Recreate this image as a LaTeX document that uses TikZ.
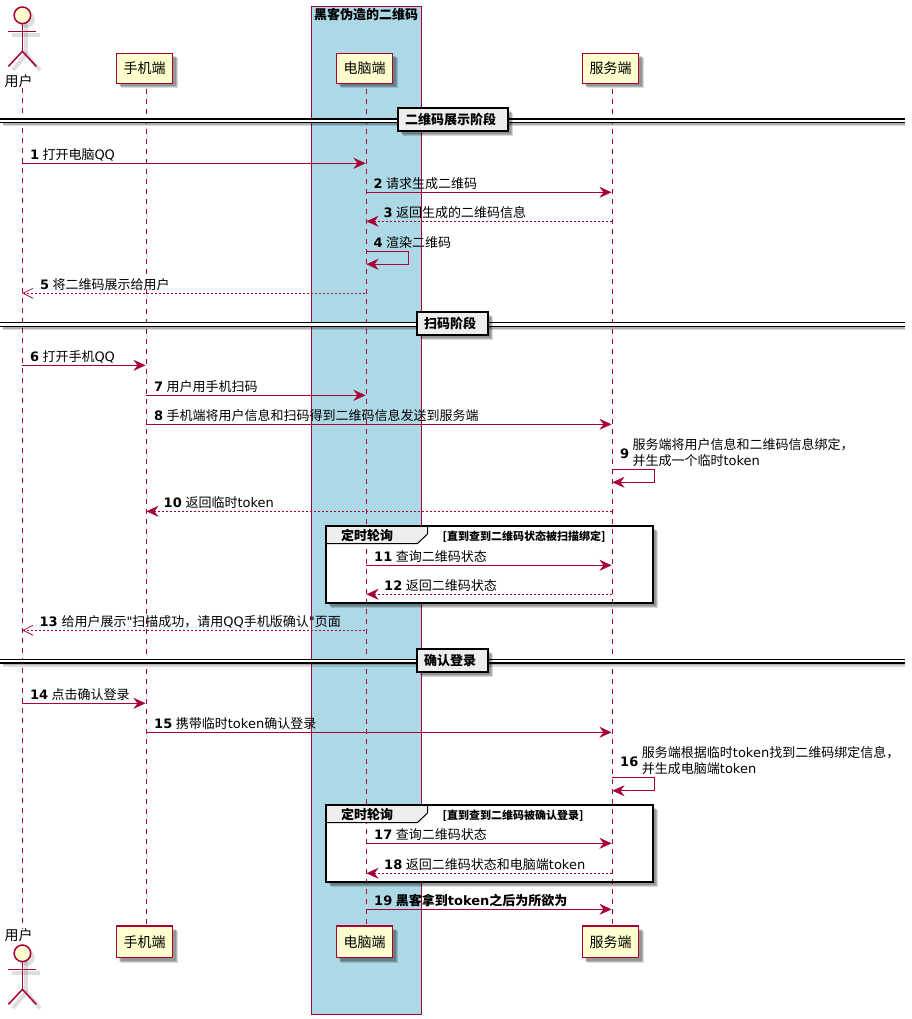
\documentclass[tikz,border=0pt]{standalone}
\usepackage{fontspec}
\usetikzlibrary{arrows.meta,shadows,calc}
\setmainfont{DejaVu Sans}
\newfontfamily\cjk{Noto Sans CJK SC}
\newfontfamily\plainfont{DejaVu Sans}
\newcommand\zh[1]{{\cjk #1}}
\definecolor{umlred}{HTML}{A80036}
\definecolor{umlfill}{HTML}{FEFECE}
\definecolor{boxblue}{HTML}{ADD8E6}
\definecolor{headgrey}{HTML}{EEEEEE}
\tikzset{
  softshadow/.style={
    general shadow={fill=black,opacity=.16,shadow xshift=3pt,shadow yshift=-3pt},
    general shadow={fill=black,opacity=.18,shadow xshift=4pt,shadow yshift=-4pt},
    general shadow={fill=black,opacity=.14,shadow xshift=5pt,shadow yshift=-5pt}},
  part/.style={draw=umlred,fill=umlfill,line width=1.5pt,minimum width=56.4pt,inner sep=0pt,softshadow,font=\fontsize{14}{16}\selectfont\cjk},
  lifeline/.style={draw=umlred,line width=1pt,dash pattern=on 5pt off 5pt,shorten <=4.7pt},
  msgline/.style={draw=umlred,line width=1pt,-{Stealth[length=12pt,width=11pt,inset=4pt]},shorten >=.5pt},
  retline/.style={msgline,dash pattern=on 2pt off 2pt},
  openline/.style={draw=umlred,line width=.8pt,dash pattern=on 2pt off 2pt,{Straight Barb[length=10pt,width=10pt,line width=.7pt]}-},
  msgtxt/.style={inner sep=0pt,anchor=base west,font=\fontsize{13}{15}\selectfont},
  numtxt/.style={msgtxt,font=\fontsize{13}{15}\selectfont\bfseries},
  divbox/.style={draw=black,fill=headgrey,line width=2pt,softshadow},
  divtxt/.style={inner sep=0pt,anchor=base west,font=\fontsize{13}{15}\selectfont\bfseries\cjk},
  grpbody/.style={fill=white,softshadow},
  grpframe/.style={draw=black,line width=2pt},
  grphead/.style={draw=black,fill=headgrey,line width=1pt},
  grptxt/.style={inner sep=0pt,anchor=base west,font=\fontsize{13}{15}\selectfont\bfseries\cjk},
  condtxt/.style={inner sep=0pt,anchor=base west,font=\fontsize{11}{13}\selectfont\bfseries\cjk},
  actorline/.style={draw=umlred,line width=1.5pt},
  actorshade/.style={draw=black,opacity=.13,line width=4pt},
}
% number at x #1, text at x #2, message line at y #3
\newcommand\mtxt[5]{%
  \node[numtxt] (n#4) at (#1,#3-4.2) {#4};
  \node[msgtxt] (t#4) at (#2,#3-4.2) {#5};}
\newcommand\divider[5]{% name, y, left, right, text
  \fill[black,opacity=.2] (0+3,#2+3.5) rectangle (905,#2+6);
  \fill[black,opacity=.14] (0+3,#2+3.5) rectangle (905,#2+7.5);
  \fill[white] (0,#2) rectangle (905,#2+3.5);
  \coordinate (#1L) at (0,#2);
  \coordinate (#1R) at (905,#2);
  \draw[black,line width=1.2pt] (#1L) -- (#1R);
  \draw[black,line width=1.2pt] ($(#1L)+(0,3.6)$) -- ($(#1R)+(0,3.6)$);
  \path[divbox] (#3,#2-10.5) rectangle (#4,#2+12.5);
  \node[divtxt] (#1T) at (#3+7,#2+5.9) {#5};}
\newcommand\grpbody[2]{% top, bottom
  \path[grpbody] (326,#1) rectangle (653,#2);}
\newcommand\grpfront[5]{% name, top, bottom, title, condition
  \path[grphead] (326,#2) -- (427.5,#2) -- (427.5,#2+8) -- (417.5,#2+17.5) -- (326,#2+17.5) -- cycle;
  \draw[grpframe] (326,#2) rectangle (653,#3);
  \node[grptxt] (#1T) at (341,#2+14.4) {#4};
  \node[condtxt] (#1C) at (442.5,#2+14) {#5};}
\newcommand\actor[2]{% name, head y
  \draw[actorshade] (26.3,#2+4) -- (26.3,#2+39);
  \draw[actorshade] (12.3,#2+20) -- (40.3,#2+20);
  \draw[actorshade] (12.8,#2+55) -- (26.3,#2+39) -- (40,#2+55);
  \node[circle,fill=black,opacity=.13,minimum size=17pt,inner sep=0pt] (#1S) at (26.3,#2+4) {};
  \node[circle,draw=umlred,fill=umlfill,line width=1.5pt,minimum size=16.6pt,inner sep=0pt] (#1) at (22.4,#2) {};
  \draw[actorline] (#1.south) -- ++(0,27) coordinate (#1H);
  \draw[actorline] (8.3,#2+16) -- (36.3,#2+16);
  \draw[actorline] (8.5,#2+51) -- (#1H) -- (36.3,#2+51);}
\begin{document}
\begin{tikzpicture}[x=1pt,y=-1pt]
\useasboundingbox (0,0) rectangle (911,1019);
\fill[white] (0,0) rectangle (911,1019);

% lifeline positions
\coordinate (L1) at (22.3,0);
\coordinate (L2) at (146,0);
\coordinate (L3) at (366,0);
\coordinate (L4) at (612,0);

% blue box
\node[draw=umlred,fill=boxblue,line width=1pt,minimum width=109.6pt,minimum height=1008pt,inner sep=0pt] (hackbox) at (366.5,510.3) {};
\node[inner sep=0pt,font=\fontsize{13}{15}\selectfont\bfseries\cjk] (hacktitle) at (366,14.3) {黑客伪造的二维码};

% group bodies
\grpbody{526}{603}
\grpbody{805}{882.3}

% participants
\node[inner sep=0pt,font=\fontsize{14}{16}\selectfont\cjk] (uTop) at (18.7,81) {用户};
\node[inner sep=0pt,font=\fontsize{14}{16}\selectfont\cjk] (uBot) at (18.7,935) {用户};
\node[part,minimum height=30pt] (pTop) at (144.5,68.3) {手机端};
\node[part,minimum height=30pt] (cTop) at (364.5,68.3) {电脑端};
\node[part,minimum height=30pt] (sTop) at (610.5,68.3) {服务端};
\node[part,minimum height=31.7pt] (pBot) at (144.5,941.8) {手机端};
\node[part,minimum height=31.7pt] (cBot) at (364.5,941.8) {电脑端};
\node[part,minimum height=31.7pt] (sBot) at (610.5,941.8) {服务端};

% lifelines
\draw[lifeline,shorten <=0pt] (L1|-uTop.south) ++(0,0) -- (L1|-uBot.north);
\draw[lifeline] (L2|-pTop.south) -- (L2|-pBot.north);
\draw[lifeline] (L3|-cTop.south) -- (L3|-cBot.north);
\draw[lifeline] (L4|-sTop.south) -- (L4|-sBot.north);

% actors
\actor{uHeadTop}{15.3}
\actor{uHeadBot}{953.3}

% dividers
\divider{dA}{119}{398}{507.5}{二维码展示阶段}
\divider{dB}{322.5}{417}{487.7}{扫码阶段}
\divider{dC}{659.3}{417}{487.7}{确认登录}

% group fronts
\grpfront{gA}{526}{603}{定时轮询}{[直到查到二维码状态被扫描绑定]}
\grpfront{gB}{805}{882.3}{定时轮询}{[直到查到二维码被确认登录]}

% messages
\draw[msgline] (L1|-0,163.3) -- (L3|-0,163.3);
\mtxt{30}{42.3}{163.3}{1}{\zh{打开电脑}QQ}
\draw[msgline] (L3|-0,192.3) -- (L4|-0,192.3);
\mtxt{373.3}{386}{192.3}{2}{\zh{请求生成二维码}}
\draw[retline] (L4|-0,221.3) -- (L3|-0,221.3);
\mtxt{383.3}{396}{221.3}{3}{\zh{返回生成的二维码信息}}
\draw[msgline] (L3|-0,251.3) -- ++(42.3,0) -- ++(0,13) -- (L3|-0,264.3);
\mtxt{373.3}{386}{251.3}{4}{\zh{渲染二维码}}
\draw[openline] (L1|-0,293.3) -- (L3|-0,293.3);
\mtxt{40}{52.3}{293.3}{5}{\zh{将二维码展示给用户}}

\draw[msgline] (L1|-0,365.3) -- (L2|-0,365.3);
\mtxt{30}{42.3}{365.3}{6}{\zh{打开手机}QQ}
\draw[msgline] (L2|-0,395.3) -- (L3|-0,395.3);
\mtxt{154}{166.3}{395.3}{7}{\zh{用户用手机扫码}}
\draw[msgline] (L2|-0,424.3) -- (L4|-0,424.3);
\mtxt{154}{166.3}{424.3}{8}{\zh{手机端将用户信息和扫码得到二维码信息发送到服务端}}
\draw[msgline] (L4|-0,469.3) -- ++(42.7,0) -- ++(0,13) -- (L4|-0,482.3);
\node[numtxt] (n9) at (620,458.3) {9};
\node[msgtxt] (t9a) at (632.3,449.5) {\zh{服务端将用户信息和二维码信息绑定，}};
\node[msgtxt] (t9b) at (632.3,465.1) {\zh{并生成一个临时}token};
\draw[retline] (L4|-0,511.3) -- (L2|-0,511.3);
\mtxt{163.5}{185.3}{511.3}{10}{\zh{返回临时}token}
\draw[msgline] (L3|-0,565.3) -- (L4|-0,565.3);
\mtxt{374}{395.7}{565.3}{11}{\zh{查询二维码状态}}
\draw[retline] (L4|-0,594.3) -- (L3|-0,594.3);
\mtxt{384}{405.7}{594.3}{12}{\zh{返回二维码状态}}
\draw[openline] (L1|-0,630.3) -- (L3|-0,630.3);
\mtxt{39.5}{61.3}{630.3}{13}{\zh{给用户展示}{\plainfont"}\zh{扫描成功，请用}QQ\zh{手机版确认}{\plainfont"}\zh{页面}}

\draw[msgline] (L1|-0,703.3) -- (L2|-0,703.3);
\mtxt{30}{51.3}{703.3}{14}{\zh{点击确认登录}}
\draw[msgline] (L2|-0,732.3) -- (L4|-0,732.3);
\mtxt{154}{175.7}{732.3}{15}{\zh{携带临时}token\zh{确认登录}}
\draw[msgline] (L4|-0,777.3) -- ++(42.7,0) -- ++(0,13.4) -- (L4|-0,790.7);
\node[numtxt] (n16) at (620,766.3) {16};
\node[msgtxt] (t16a) at (641.7,757.8) {\zh{服务端根据临时}token\zh{找到二维码绑定信息，}};
\node[msgtxt] (t16b) at (641.7,773.4) {\zh{并生成电脑端}token};
\draw[msgline] (L3|-0,843.3) -- (L4|-0,843.3);
\mtxt{374}{395.7}{843.3}{17}{\zh{查询二维码状态}}
\draw[retline] (L4|-0,873.3) -- (L3|-0,873.3);
\mtxt{384}{405.7}{873.3}{18}{\zh{返回二维码状态和电脑端}token}
\draw[msgline] (L3|-0,909.3) -- (L4|-0,909.3);
\mtxt{374}{395.7}{909.3}{19}{\bfseries\zh{黑客拿到}token\zh{之后为所欲为}}
\end{tikzpicture}
\end{document}
